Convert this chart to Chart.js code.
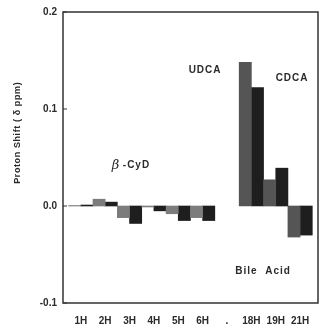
<!DOCTYPE html>
<html>
<head>
<meta charset="utf-8">
<script src="https://cdn.jsdelivr.net/npm/chart.js@4/dist/chart.umd.min.js"></script>
<style>
html,body{margin:0;padding:0;background:#fff;}
#wrap{width:323px;height:326px;}
</style>
</head>
<body>
<div id="wrap"><canvas id="c" width="323" height="326"></canvas></div>
<script>
// ---- data ----
const categories = ['1H','2H','3H','4H','5H','6H','.','18H','19H','21H'];
const seriesLight = [0.0005, 0.007, -0.012, -0.001, -0.008, -0.012, null, 0.148, 0.027, -0.032];
const seriesDark  = [0.001, 0.004, -0.018, -0.005, -0.015, -0.015, null, 0.122, 0.039, -0.030];
const yTicks = [-0.1, 0.0, 0.1, 0.2];
const annotations = [
  {text:'UDCA', x:5.10, y:0.140},
  {text:'CDCA', x:8.67, y:0.132},
  {text:'-CyD', beta:true, x:2.08, y:0.042},
  {text:'Bile Acid', x:7.48, y:-0.067}
];

const toPts = arr => arr.map((v,i)=>({x:i, y:v}));
const FONT = '"Liberation Sans", Arial, sans-serif';
const INK = '#2a2a2a';

const frame = {
  id:'frame',
  afterDraw(chart){
    const {ctx, chartArea:a, scales} = chart;
    ctx.save();
    ctx.strokeStyle = '#333';
    ctx.lineWidth = 1.5;
    ctx.strokeRect(a.left, a.top, a.right-a.left, a.bottom-a.top);
    // inward y ticks
    ctx.lineWidth = 1;
    yTicks.forEach(v=>{
      const y = scales.y.getPixelForValue(v);
      ctx.beginPath(); ctx.moveTo(a.left, y); ctx.lineTo(a.left+4, y); ctx.stroke();
    });
    // annotations
    ctx.fillStyle = INK;
    ctx.textBaseline = 'middle';
    ctx.textAlign = 'center';
    annotations.forEach(t=>{
      const x = scales.x.getPixelForValue(t.x);
      const y = scales.y.getPixelForValue(t.y);
      if (t.beta){
        ctx.font = 'italic 13px "DejaVu Serif", serif';
        ctx.letterSpacing = '0px';
        ctx.fillText('\u03B2', x-16, y);
        ctx.font = 'bold 10px ' + FONT;
        ctx.letterSpacing = '1px';
        ctx.fillText(t.text, x+5, y);
      } else {
        ctx.font = 'bold 10px ' + FONT;
        ctx.letterSpacing = '1px';
        ctx.fillText(t.text.replace(' ', '  '), x, y);
      }
    });
    // y title
    ctx.letterSpacing = '0.6px';
    ctx.font = 'bold 9px ' + FONT;
    ctx.translate(18, a.top + 0.415*(a.bottom-a.top));
    ctx.rotate(-Math.PI/2);
    ctx.fillText('Proton Shift ( \u03B4 ppm)', 0, 0);
    ctx.restore();
  }
};

new Chart(document.getElementById('c'), {
  type:'bar',
  data:{
    datasets:[
      {data:toPts(seriesLight), backgroundColor: c => c.dataIndex < 6 ? '#7c7c7c' : '#555555', borderWidth:0},
      {data:toPts(seriesDark), backgroundColor:'#1e1e1e', borderWidth:0}
    ]
  },
  options:{
    responsive:false,
    animation:false,
    devicePixelRatio:1,
    layout:{padding:{top:11, right:5, left:0, bottom:0}},
    plugins:{legend:{display:false}, tooltip:{enabled:false}},
    datasets:{bar:{categoryPercentage:1, barPercentage:1}},
    scales:{
      x:{
        type:'linear',
        offset:false,
        bounds:'data',
        min:-0.730, max:9.734,
        afterBuildTicks(s){ s.ticks = categories.map((_,i)=>({value:i})); },
        afterFit(s){ s.height = 23; },
        grid:{display:false, drawTicks:false, offset:false},
        border:{display:false},
        ticks:{
          autoSkip:false, maxRotation:0, padding:12,
          color:INK, font:{family:FONT, size:10, weight:'bold'},
          callback:v=>categories[Math.round(v)]
        }
      },
      y:{
        min:-0.1, max:0.2,
        afterBuildTicks(s){ s.ticks = yTicks.map(v=>({value:v})); },
        afterFit(s){ s.width = 63; },
        grid:{display:false, drawTicks:false},
        border:{display:false},
        ticks:{
          padding:6, color:INK, font:{family:FONT, size:10, weight:'bold'},
          callback:v=>v.toFixed(1)
        }
      }
    }
  },
  plugins:[frame]
});
</script>
</body>
</html>
